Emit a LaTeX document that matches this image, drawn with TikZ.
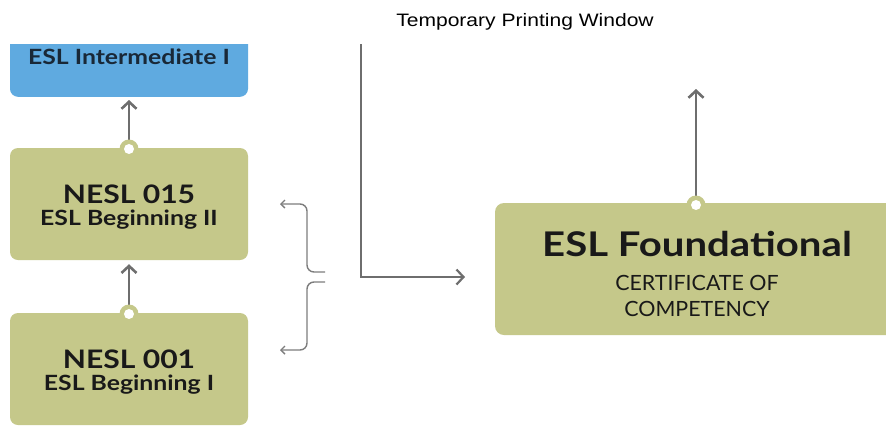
\documentclass[tikz,border=0pt]{standalone}
\usepackage{fontspec}
\setmainfont{Lato}
\newfontfamily\avfont[FakeStretch=1.18]{Lato}
\newfontfamily\avreg[FakeStretch=1.02]{Lato}
\newfontfamily\titlefont[FakeStretch=1.17]{Liberation Sans}
\usetikzlibrary{arrows.meta}
\definecolor{olivebox}{RGB}{197,200,138}
\definecolor{skybox}{RGB}{95,170,224}
\definecolor{arrowgray}{RGB}{110,110,110}
\definecolor{bracegray}{RGB}{125,125,125}
\definecolor{ink}{RGB}{25,25,25}
\definecolor{navy}{RGB}{25,40,55}
\tikzset{
  coursebox/.style={fill=olivebox, rounded corners=8pt, minimum width=238pt, minimum height=112pt, inner sep=0pt},
  boxtext/.style={anchor=base, inner sep=0pt, text=ink},
  flow/.style={draw=arrowgray, line width=2.6pt, -{Straight Barb[length=7pt,width=15pt]}},
  bracearrow/.style={draw=bracegray, line width=1.4pt, rounded corners=7pt, -{Straight Barb[length=4pt,width=8pt]}},
  knobouter/.style={fill=olivebox},
  knobinner/.style={fill=white},
}
\begin{document}
\begin{tikzpicture}[x=1pt,y=-1pt]
\clip (0,0) rectangle (886,429);
\fill[white] (0,0) rectangle (886,429);
% title
\node[font=\titlefont\fontsize{18}{20}\selectfont, text=black, anchor=base, inner sep=0pt] (title) at (525,26) {Temporary Printing Window};
% blue box, cropped at the top
\begin{scope}
\clip (0,44) rectangle (886,429);
\node[fill=skybox, rounded corners=8pt, minimum width=238pt, minimum height=80pt, inner sep=0pt, anchor=south] (inter) at (129,97) {};
\end{scope}
\node[boxtext, text=navy, font=\avfont\bfseries\fontsize{21}{24}\selectfont] (intertext) at (129,64) {ESL Intermediate I};
% course boxes
\node[coursebox] (n15) at (129,204) {};
\node[coursebox] (n01) at (129,369) {};
\node[boxtext, font=\avfont\bfseries\fontsize{25.5}{28}\selectfont] (n15a) at (129,203) {NESL 015};
\node[boxtext, font=\avfont\bfseries\fontsize{21}{24}\selectfont] (n15b) at (129,225) {ESL Beginning II};
\node[boxtext, font=\avfont\bfseries\fontsize{25.5}{28}\selectfont] (n01a) at (129,368) {NESL 001};
\node[boxtext, font=\avfont\bfseries\fontsize{21}{24}\selectfont] (n01b) at (129,390) {ESL Beginning I};
% foundational box (runs off the right edge)
\node[fill=olivebox, rounded corners=9pt, minimum width=404pt, minimum height=132pt, inner sep=0pt] (found) at (697,269) {};
\node[boxtext, font=\avfont\bfseries\fontsize{34}{38}\selectfont] (founda) at (697,256) {ESL Foundational};
\node[boxtext, font=\avreg\fontsize{21}{24}\selectfont] (foundb) at (697,290) {CERTIFICATE OF};
\node[boxtext, font=\avreg\fontsize{21}{24}\selectfont] (foundc) at (697,316) {COMPETENCY};
% knob positions
\coordinate (k15) at (129,149);
\coordinate (k01) at (129,314);
\coordinate (kf) at (696,205);
% vertical flow arrows
\draw[flow, shorten >=3pt] (k15) -- (inter.south);
\draw[flow, shorten >=4pt] (k01) -- (n15.south);
\coordinate (foundup) at (696,89);
\draw[flow] (kf) -- (foundup);
% knobs over the arrow starts
\foreach \k in {k15,k01,kf}{
  \fill[knobouter] (\k) circle (9.5);
  \fill[knobinner] (\k) circle (5);
}
% L arrow
\coordinate (ltop) at (361,44);
\coordinate (lend) at (465,277);
\draw[flow, line width=2.2pt] (ltop) |- (lend);
% brace
\coordinate (bmidup) at (325,272);
\coordinate (bmiddown) at (325,282);
\coordinate (bup) at (280,204);
\coordinate (bdown) at (280,350);
\draw[bracearrow] (bmidup) -| (307,204) -- (bup);
\draw[bracearrow] (bmiddown) -| (307,350) -- (bdown);
\end{tikzpicture}
\end{document}
